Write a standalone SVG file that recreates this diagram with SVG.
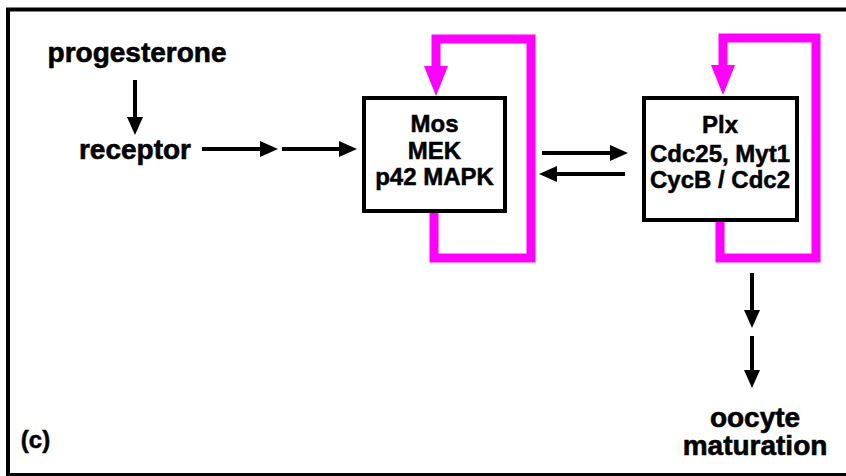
<svg xmlns="http://www.w3.org/2000/svg" width="846" height="476" viewBox="0 0 846 476">
<style>
  .lbl { font-family: "Liberation Sans", Arial, sans-serif; font-weight: bold; font-size: 28px; fill: #000; stroke: #000; stroke-width: 0.6; text-anchor: middle; }
  .box-t { font-family: "Liberation Sans", Arial, sans-serif; font-weight: bold; font-size: 24px; fill: #000; stroke: #000; stroke-width: 0.5; text-anchor: middle; }
  .box { fill: #fff; stroke: #000; stroke-width: 4; }
  .arr { fill: none; stroke: #000; stroke-width: 4; marker-end: url(#ah); }
  .loop { fill: none; stroke: #ff00ff; stroke-width: 9; stroke-linejoin: miter; marker-end: url(#mh); }
</style>
<defs>
  <marker id="ah" markerUnits="userSpaceOnUse" markerWidth="20" markerHeight="18" viewBox="0 -9 20 18" refX="0" refY="0" orient="auto">
    <path d="M0,-8 L18,0 L0,8 Z" fill="#000"/>
  </marker>
  <marker id="mh" markerUnits="userSpaceOnUse" markerWidth="32" markerHeight="26" viewBox="0 -13 32 26" refX="0" refY="0" orient="auto">
    <path d="M0,-12 L30,0 L0,12 Z" fill="#ff00ff"/>
  </marker>
</defs>
<rect x="8" y="9.5" width="850" height="465.5" fill="none" stroke="#000" stroke-width="4"/>
<g id="connectors">
  <path class="loop" d="M434,211 V258 H531 V39 H436 V66"/>
  <path class="loop" d="M720,220 V258 H816 V38 H723 V65"/>
  <path class="arr" d="M135,80 V117"/>
  <path class="arr" d="M202,149 H260"/>
  <path class="arr" d="M282,149 H339"/>
  <path class="arr" d="M542,153 H610"/>
  <path class="arr" d="M625,174 H557"/>
  <path class="arr" d="M752,273 V310"/>
  <path class="arr" d="M752,336 V370"/>
</g>
<g id="progesterone"><text class="lbl" x="137" y="62">progesterone</text></g>
<g id="receptor"><text class="lbl" x="135" y="159">receptor</text></g>
<g id="mos">
  <rect class="box" x="364" y="98" width="141" height="113"/>
  <text class="box-t" x="434.5" y="132">Mos</text>
  <text class="box-t" x="434.5" y="158.5">MEK</text>
  <text class="box-t" x="434.5" y="185">p42 MAPK</text>
</g>
<g id="plx">
  <rect class="box" x="644" y="98" width="153" height="122"/>
  <text class="box-t" x="720" y="133">Plx</text>
  <text class="box-t" x="720" y="161.5">Cdc25, Myt1</text>
  <text class="box-t" x="720" y="188">CycB / Cdc2</text>
</g>
<g id="oocyte">
  <text class="lbl" x="755" y="427">oocyte</text>
  <text class="lbl" x="755" y="455">maturation</text>
</g>
<g id="panel-label"><text class="box-t" x="35.5" y="448">(c)</text></g>
</svg>
